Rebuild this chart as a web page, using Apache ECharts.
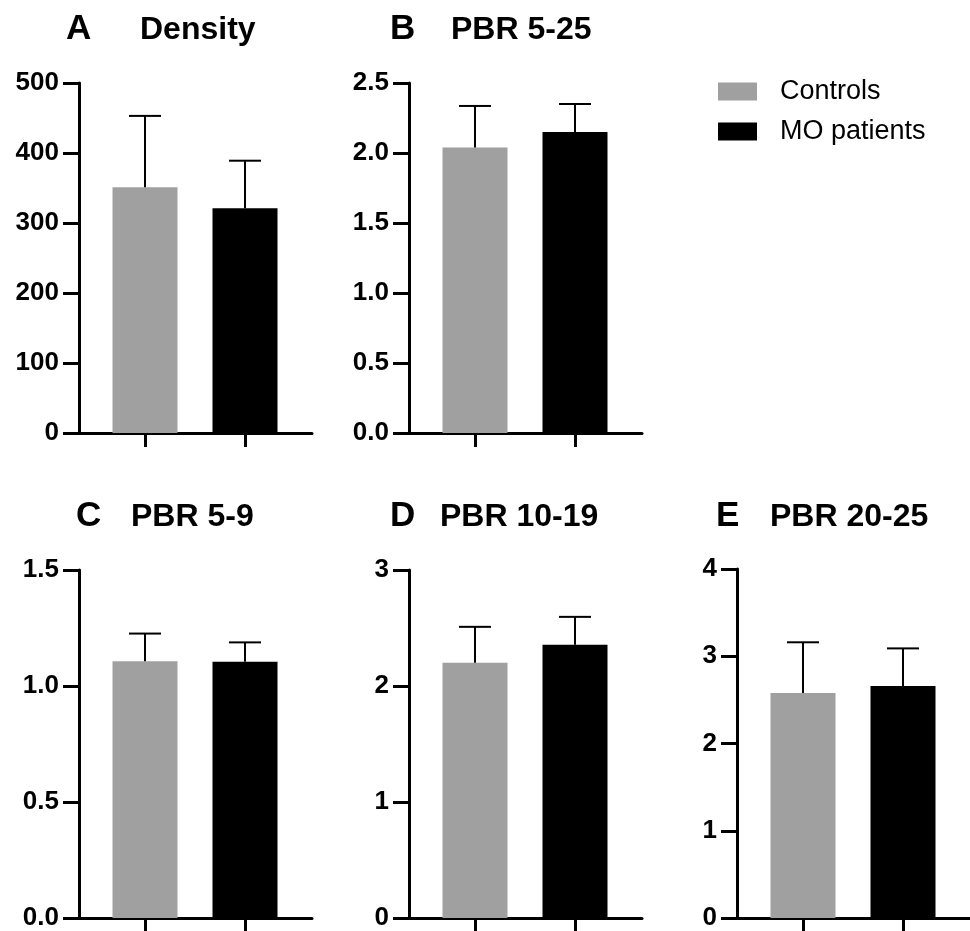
<!DOCTYPE html>
<html>
<head>
<meta charset="utf-8">
<script src="https://cdn.jsdelivr.net/npm/echarts@6/dist/echarts.min.js"></script>
<style>html,body{margin:0;padding:0;background:#fff}#c{width:970px;height:931px}</style>
</head>
<body>
<div id="c"></div>
<script>
// ---- data ----
const panelLetters = ['A', 'B', 'C', 'D', 'E'];
const panelTitles = ['Density', 'PBR 5-25', 'PBR 5-9', 'PBR 10-19', 'PBR 20-25'];
const groups = ['Controls', 'MO patients'];
const controlsMean = [351, 2.04, 1.107, 2.20, 2.58];
const controlsUpper = [453, 2.336, 1.226, 2.51, 3.16];
const moMean = [321, 2.15, 1.105, 2.355, 2.66];
const moUpper = [389, 2.35, 1.188, 2.596, 3.09];
const yMax = [500, 2.5, 1.5, 3, 4];
const yInterval = [100, 0.5, 0.5, 1, 1];
const yDecimals = [0, 1, 1, 0, 0];

// ---- layout ----
const gridPos = [
  {left: 79, top: 83, height: 350},
  {left: 409, top: 83, height: 350},
  {left: 79, top: 570, height: 351},
  {left: 409, top: 570, height: 349},
  {left: 737, top: 569, height: 349}
];
const letterPos = [[66, 12], [390, 12], [76, 499], [390, 499], [716, 499]];
const namePos = [[140, 14], [451, 14], [131, 501], [440, 501], [770, 501]];
const GRAY = '#a0a0a0';

const grid = [], xAxis = [], yAxis = [], series = [], title = [];
panelLetters.forEach((L, i) => {
  const g = gridPos[i];
  grid.push({left: g.left, top: g.top, width: 233, height: g.height, containLabel: false});
  xAxis.push({
    type: 'value', gridIndex: i, min: -0.66, max: 1.67,
    axisLine: {show: true, onZero: false, lineStyle: {color: '#000', width: 3}},
    axisTick: {show: true, length: 14, lineStyle: {color: '#000', width: 3}, customValues: [0, 1]},
    axisLabel: {show: false}, splitLine: {show: false}
  });
  yAxis.push({
    type: 'value', gridIndex: i, min: 0, max: yMax[i], interval: yInterval[i],
    axisLine: {show: true, onZero: false, lineStyle: {color: '#000', width: 3}},
    axisTick: {show: true, length: 16, lineStyle: {color: '#000', width: 3}},
    axisLabel: {margin: 20, color: '#000', fontFamily: 'Liberation Sans', fontWeight: 'bold', fontSize: 26,
      formatter: v => v.toFixed(yDecimals[i])},
    splitLine: {show: false}
  });
  series.push({
    type: 'bar', name: groups[0], xAxisIndex: i, yAxisIndex: i, barWidth: 65, barGap: '-100%',
    itemStyle: {color: GRAY}, data: [[0, controlsMean[i]]]
  });
  series.push({
    type: 'bar', name: groups[1], xAxisIndex: i, yAxisIndex: i, barWidth: 65, barGap: '-100%',
    itemStyle: {color: '#000'}, data: [[1, moMean[i]]]
  });
  series.push({
    type: 'custom', xAxisIndex: i, yAxisIndex: i, z: 5,
    encode: {x: 0, y: [1, 2]},
    data: [[0, controlsMean[i], controlsUpper[i]], [1, moMean[i], moUpper[i]]],
    renderItem: (params, api) => {
      const x = api.value(0), m = api.value(1), u = api.value(2);
      const p0 = api.coord([x, m]), p1 = api.coord([x, u]);
      const hw = 16;
      return {type: 'group', children: [
        {type: 'line', shape: {x1: p0[0], y1: p0[1], x2: p1[0], y2: p1[1]}, style: {stroke: '#000', lineWidth: 2}},
        {type: 'line', shape: {x1: p1[0] - hw, y1: p1[1], x2: p1[0] + hw, y2: p1[1]}, style: {stroke: '#000', lineWidth: 2}}
      ]};
    }
  });
  title.push({text: L, left: letterPos[i][0], top: letterPos[i][1], padding: 0,
    textStyle: {fontFamily: 'Liberation Sans', fontWeight: 'bold', fontSize: 35, color: '#000'}});
  title.push({text: panelTitles[i], left: namePos[i][0], top: namePos[i][1], padding: 0,
    textStyle: {fontFamily: 'Liberation Sans', fontWeight: 'bold', fontSize: 32, color: '#000'}});
});

const chart = echarts.init(document.getElementById('c'), null, {renderer: 'canvas'});
chart.setOption({
  animation: false,
  backgroundColor: '#fff',
  title: title,
  legend: {
    data: groups, orient: 'vertical', left: 718, top: 78, padding: 0,
    itemWidth: 39, itemHeight: 18, itemGap: 13, icon: 'rect',
    textStyle: {fontFamily: 'Liberation Sans', fontSize: 27, color: '#000', padding: [0, 0, 0, 18]}
  },
  grid: grid, xAxis: xAxis, yAxis: yAxis, series: series
});
</script>
</body>
</html>
